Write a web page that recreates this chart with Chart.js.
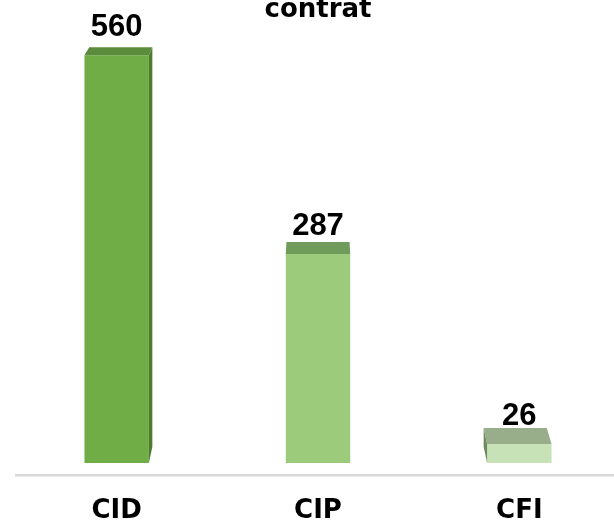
<!DOCTYPE html>
<html>
<head>
<meta charset="utf-8">
<script src="https://cdn.jsdelivr.net/npm/chart.js@4"></script>
<style>
    html, body { margin: 0; padding: 0; overflow: hidden; background: #fff; width: 614px; height: 524px; }
    #wrap { position: absolute; left: 0; top: -10px; width: 620px; height: 558px; }
</style>
</head>
<body>
<div id="wrap"><canvas id="contract-chart"></canvas></div>
<script>
// Data
const categories = ['CID', 'CIP', 'CFI'];
const headcounts = [560, 287, 26];
const chartTitle = 'contrat';

// Face colours of the 3D bars
const frontColors = ['#70ad47', '#9ccb7c', '#c6e2b6'];
const topColors = ['#5b8c3b', '#6f9b5b', '#98ae8b'];
const sideColors = ['#4e7b2f', '#5f8a4c', '#6f8a62'];

/**
 * Draws the top and side faces of each bar, plus the value label
 */
const bar3d = {
    id: 'bar3d',
    afterDatasetsDraw(chart) {
        const { ctx, chartArea } = chart;
        const vx = (chartArea.left + chartArea.right) / 2;
        const vy = chartArea.top - 360;
        const k = 0.0205;
        const back = (x, y) => [x + (vx - x) * k, y + (vy - y) * k];
        const poly = (pts, color) => {
            ctx.beginPath();
            ctx.moveTo(pts[0][0], pts[0][1]);
            pts.slice(1).forEach(p => ctx.lineTo(p[0], p[1]));
            ctx.closePath();
            ctx.fillStyle = color;
            ctx.fill();
        };
        const values = chart.data.datasets[0].data;

        ctx.save();
        chart.getDatasetMeta(0).data.forEach((bar, i) => {
            const { x, y, base, width } = bar.getProps(['x', 'y', 'base', 'width'], true);
            const x1 = x - width / 2;
            const x2 = x + width / 2;

            // side face, on the side facing the middle of the chart
            if (Math.abs(x - vx) > 20) {
                const sx = x < vx ? x2 : x1;
                poly([[sx, y], back(sx, y), back(sx, base), [sx, base]], sideColors[i]);
            }
            // top face
            poly([[x1, y], [x2, y], back(x2, y), back(x1, y)], topColors[i]);

            // value label
            ctx.font = 'bold 31px "Liberation Sans", Arial, sans-serif';
            ctx.textAlign = 'center';
            ctx.textBaseline = 'alphabetic';
            ctx.fillStyle = '#000';
            ctx.fillText(values[i], x, y - 19);
        });
        ctx.restore();
    }
};

const ctx = document.getElementById('contract-chart').getContext('2d');
new Chart(ctx, {
    type: 'bar',
    data: {
        labels: categories,
        datasets: [{
            data: headcounts,
            backgroundColor: frontColors,
            borderWidth: 0,
            categoryPercentage: 1,
            barPercentage: 0.32
        }]
    },
    options: {
        responsive: true,
        maintainAspectRatio: false,
        animation: false,
        layout: { padding: { left: 16, right: 0, top: 0, bottom: 0 } },
        scales: {
            x: {
                grid: { display: false, drawTicks: false },
                border: { display: true, color: '#d9d9d9', width: 2.5 },
                ticks: {
                    color: '#000',
                    padding: 20.9,
                    font: { family: '"DejaVu Sans", sans-serif', size: 26, weight: 'bold' }
                }
            },
            y: {
                display: false,
                min: -16.5,
                max: 600
            }
        },
        plugins: {
            legend: { display: false },
            tooltip: { enabled: false },
            title: {
                display: true,
                text: chartTitle,
                color: '#000',
                padding: { top: 5, bottom: 0 },
                font: { family: '"DejaVu Sans", sans-serif', size: 26, weight: 'bold' }
            }
        }
    },
    plugins: [bar3d]
});
</script>
</body>
</html>
